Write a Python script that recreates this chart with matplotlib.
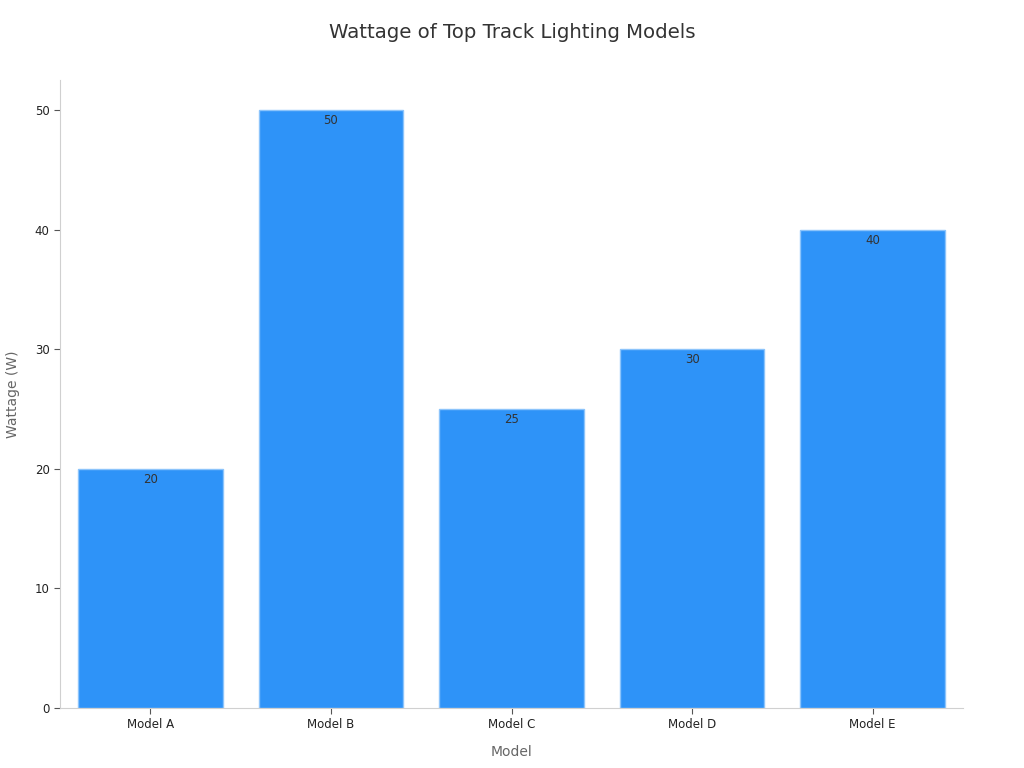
import matplotlib
matplotlib.use("Agg")
import matplotlib.pyplot as plt

models = ["Model A", "Model B", "Model C", "Model D", "Model E"]
wattage = [20, 50, 25, 30, 40]

plt.rcParams['font.family'] = ['DejaVu Sans']
fig = plt.figure(figsize=(10.24, 7.68), dpi=100)
ax = fig.add_axes([60/1024, 1-708/768, (963-60)/1024, (708-80)/768])

bars = ax.bar(models, wattage, width=0.8, color="#2e93f8", edgecolor="#8cc4fb", linewidth=1)
for b, v in zip(bars, wattage):
    ax.annotate(str(v), (b.get_x() + b.get_width()/2, v), xytext=(0, -3),
                textcoords="offset points", ha="center", va="top", fontsize=8.5, color="#333333")

ax.set_xlim(-0.5, 4.5)
ax.set_ylim(0, 52.5)
ax.set_yticks([0, 10, 20, 30, 40, 50])
for s in ["top", "right"]:
    ax.spines[s].set_visible(False)
for s in ["left", "bottom"]:
    ax.spines[s].set_color("#d0d0d0")
ax.tick_params(axis="both", colors="#555555", labelcolor="#222222", labelsize=8.5, length=4)
ax.set_xlabel("Model", fontsize=10, color="#666666", labelpad=10)
ax.set_ylabel("Wattage (W)", fontsize=10, color="#666666", labelpad=10.5)
fig.text(512/1024, 1-33/768, "Wattage of Top Track Lighting Models", ha="center", va="center",
         fontsize=14.2, color="#333333")
fig.savefig("out.png", dpi=100)
